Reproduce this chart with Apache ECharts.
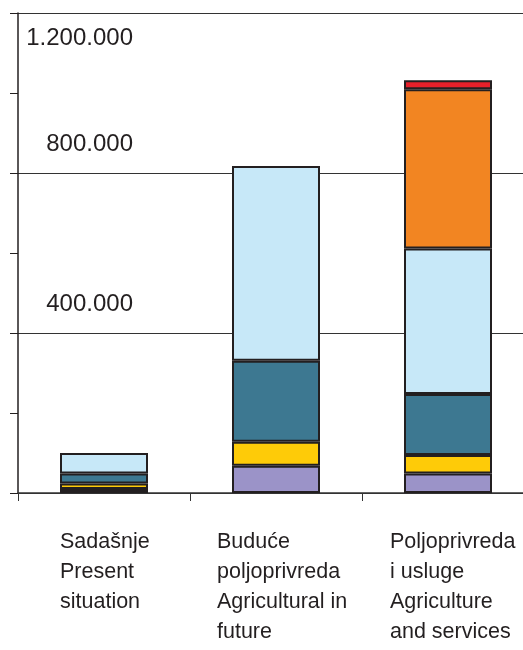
<!DOCTYPE html>
<html>
<head>
<meta charset="utf-8">
<script src="https://cdn.jsdelivr.net/npm/echarts@6/dist/echarts.min.js"></script>
<style>
html,body{margin:0;padding:0;background:#fff;overflow:hidden;}
#chart{width:523px;height:650px;}
</style>
</head>
<body>
<div id="chart"></div>
<script>
const categories = ['Sadašnje\nPresent\nsituation', 'Buduće\npoljoprivreda\nAgricultural in\nfuture', 'Poljoprivreda\ni usluge\nAgriculture\nand services'];
const purpleValues = [10000, 68000, 49000];
const yellowValues = [14000, 60000, 46000];
const tealValues = [25000, 202500, 152500];
const lightBlueValues = [51000, 487000, 364000];
const orangeValues = [null, null, 398000];
const redValues = [null, null, 22500];
const yTickLabels = {400000: '400.000', 800000: '800.000', 1200000: '1.200.000'};

const ink = '#231f20';
const font = '"Liberation Sans", Arial, sans-serif';

function mkSeries(name, data, color) {
  return {
    name: name, type: 'bar', stack: 'total', data: data, barWidth: 88,
    itemStyle: {color: color, borderColor: ink, borderWidth: 2},
    emphasis: {disabled: true}
  };
}

const chart = echarts.init(document.getElementById('chart'));
chart.setOption({
  animation: false,
  textStyle: {fontFamily: font},
  grid: {left: 18, right: -11, top: 13, bottom: 157, containLabel: false, outerBoundsMode: 'none'},
  xAxis: {
    type: 'category',
    data: categories,
    axisLine: {lineStyle: {color: '#333', width: 1.5}},
    axisTick: {show: true, length: 8, lineStyle: {color: '#333', width: 1}},
    axisLabel: {
      interval: 0, margin: 34, align: 'center', verticalAlign: 'top',
      formatter: function (v, i) {
        return v.split('\n').map(function (s) { return '{c' + i + '|' + s + '}'; }).join('\n');
      },
      rich: {
        c0: {width: 88, align: 'left', fontSize: 21.5, lineHeight: 30, color: ink, fontFamily: font},
        c1: {width: 118, align: 'left', fontSize: 21.5, lineHeight: 30, color: ink, fontFamily: font},
        c2: {width: 116, align: 'left', fontSize: 21.5, lineHeight: 30, color: ink, fontFamily: font}
      }
    }
  },
  yAxis: {
    type: 'value', min: 0, max: 1200000, interval: 400000,
    axisLine: {show: true, lineStyle: {color: ink, width: 1.5}},
    axisTick: {show: true, length: 8, lineStyle: {color: ink, width: 1}},
    minorTick: {show: true, splitNumber: 2, length: 8, lineStyle: {color: ink, width: 1}},
    splitLine: {show: true, lineStyle: {color: '#333', width: 1}},
    axisLabel: {
      inside: true, margin: 115, align: 'right', verticalAlign: 'middle',
      formatter: function (v) {
        const t = yTickLabels[v];
        if (!t) return '';
        return v === 1200000 ? '{t|' + t + '}' : '{n|' + t + '}';
      },
      rich: {
        n: {fontSize: 24, color: ink, fontFamily: font, padding: [0, 0, 58, 0]},
        t: {fontSize: 24, color: ink, fontFamily: font, padding: [50, 0, 0, 0]}
      }
    }
  },
  series: [
    mkSeries('purple', purpleValues, '#9b93c8'),
    mkSeries('yellow', yellowValues, '#fecb08'),
    mkSeries('teal', tealValues, '#3d7891'),
    mkSeries('lightblue', lightBlueValues, '#c7e8f8'),
    mkSeries('orange', orangeValues, '#f28522'),
    mkSeries('red', redValues, '#e6202a')
  ]
});
</script>
</body>
</html>
